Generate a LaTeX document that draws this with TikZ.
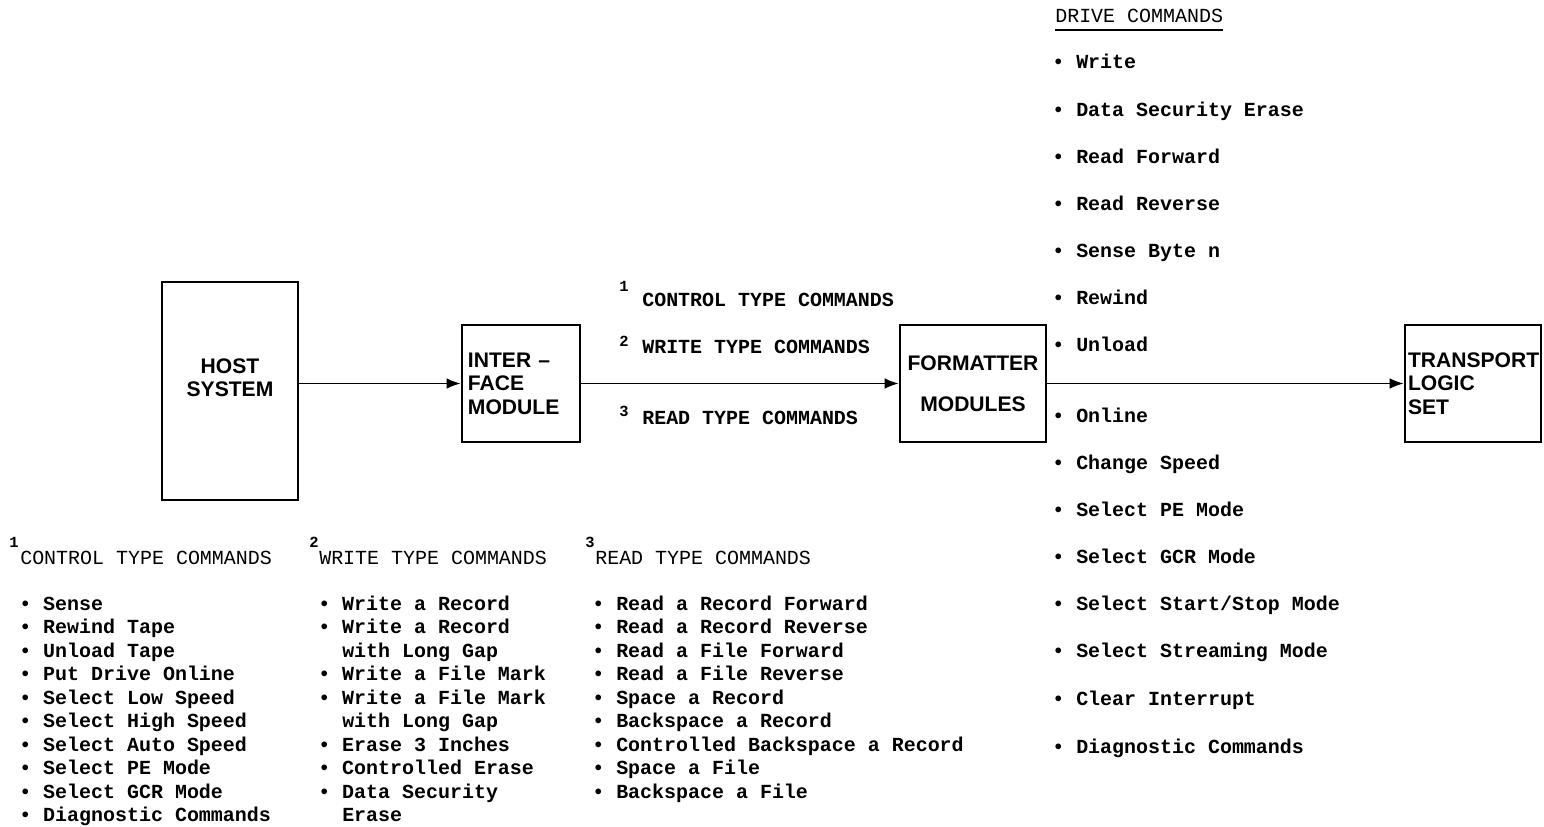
\documentclass[tikz,border=0pt]{standalone}
\usepackage{fontspec}
\usepackage{tikz}
\usetikzlibrary{arrows.meta, positioning}
\newfontfamily\typefont{Liberation Mono}
\newfontfamily\boxfont{Liberation Sans}
\tikzset{
  unit box/.style={
    draw, line width=1.7pt,
    font=\boxfont\bfseries\fontsize{15pt}{16.7pt}\selectfont,
    inner sep=0pt
  },
  cmd item/.style={
    anchor=base west, inner sep=0pt,
    font=\typefont\bfseries\fontsize{14.2pt}{17pt}\selectfont
  },
  cmd head/.style={
    anchor=base west, inner sep=0pt,
    font=\typefont\fontsize{14.2pt}{17pt}\selectfont
  },
  cmd num/.style={
    anchor=base west, inner sep=0pt,
    font=\typefont\bfseries\fontsize{11pt}{13pt}\selectfont
  },
  bus/.style={-{Latex[length=10pt,width=7.5pt]}, line width=1.3pt}
}

\begin{document}
\begin{tikzpicture}[x=0.025cm, y=-0.025cm]
  \useasboundingbox (0,0) rectangle (1544,827);

  % Units
  \node[unit box, minimum width=3.4cm, minimum height=5.45cm,
        label={[align=center, font=\boxfont\bfseries\fontsize{15pt}{16.7pt}\selectfont, yshift=0.33cm]center:HOST\\SYSTEM}]
        (host) at (230, 391) {};
  \node[unit box, minimum width=2.95cm, minimum height=2.925cm,
        align=left, text width=2.65cm, inner xsep=0.15cm]
        (iface) at (521, 383.5) {INTER \textendash\\FACE\\MODULE};
  \node[unit box, minimum width=3.65cm, minimum height=2.925cm, align=center]
        (fmt) at (973, 383.5) {FORMATTER\\[0.45cm]MODULES};
  \node[unit box, minimum width=3.4cm, minimum height=2.925cm,
        align=left, text width=3.25cm, inner xsep=0.075cm]
        (trans) at (1473, 383.5) {TRANSPORT\\LOGIC\\SET};

  % Connections
  \draw[bus] (host.east |- iface.west) -- (iface.west);
  \draw[bus] (iface.east) -- (fmt.west);
  \draw[bus] (fmt.east) -- (trans.west);

  % Command types on the bus
  \node[cmd num] (n1) at (619, 291) {1};
  \node[cmd item] (bus1) at (642, 306) {CONTROL TYPE COMMANDS};
  \node[cmd num] (n2) at (619, 346) {2};
  \node[cmd item] (bus2) at (642, 353) {WRITE TYPE COMMANDS};
  \node[cmd num] (n3) at (619, 416) {3};
  \node[cmd item] (bus3) at (642, 424) {READ TYPE COMMANDS};

  % Drive commands
  \node[cmd head] (drvhead) at (1055, 23) {DRIVE COMMANDS};
  \draw[line width=0.8pt] ([yshift=-5pt]drvhead.base west) -- ([yshift=-5pt]drvhead.base east);
  \foreach \yy/\txt [count=\i] in {63/Write, 111/Data Security Erase, 157/Read Forward,
      204/Read Reverse, 251/Sense Byte n, 298/Rewind, 345/Unload, 416/Online,
      463/Change Speed, 510/Select PE Mode, 557/Select GCR Mode,
      604/{Select Start/Stop Mode}, 651/Select Streaming Mode,
      699/Clear Interrupt, 747/Diagnostic Commands}
    \node[cmd item] (drv\i) at (1052, {\yy+6}) {\textbullet\ \txt};

  % Control type commands
  \node[cmd num] (ctlnum) at (9, 547) {1};
  \node[cmd head] (ctlhead) at (20, 564) {CONTROL TYPE COMMANDS};
  \foreach \txt [count=\i] in {Sense, Rewind Tape, Unload Tape, Put Drive Online,
      Select Low Speed, Select High Speed, Select Auto Speed, Select PE Mode,
      Select GCR Mode, Diagnostic Commands}
    \node[cmd item] (ctl\i) at (19, {610+23.5*(\i-1)}) {\textbullet\ \txt};

  % Write type commands
  \node[cmd num] (wrnum) at (309, 547) {2};
  \node[cmd head] (wrhead) at (319, 564) {WRITE TYPE COMMANDS};
  \foreach \txt [count=\i] in {\textbullet\ Write a Record, \textbullet\ Write a Record,
      \hphantom{\textbullet\ }with Long Gap, \textbullet\ Write a File Mark,
      \textbullet\ Write a File Mark, \hphantom{\textbullet\ }with Long Gap,
      \textbullet\ Erase 3 Inches, \textbullet\ Controlled Erase,
      \textbullet\ Data Security, \hphantom{\textbullet\ }Erase}
    \node[cmd item] (wr\i) at (318, {610+23.5*(\i-1)}) {\txt};

  % Read type commands
  \node[cmd num] (rdnum) at (585, 547) {3};
  \node[cmd head] (rdhead) at (595, 564) {READ TYPE COMMANDS};
  \foreach \txt [count=\i] in {Read a Record Forward, Read a Record Reverse,
      Read a File Forward, Read a File Reverse, Space a Record,
      Backspace a Record, Controlled Backspace a Record, Space a File,
      Backspace a File}
    \node[cmd item] (rd\i) at (592, {610+23.5*(\i-1)}) {\textbullet\ \txt};
\end{tikzpicture}
\end{document}
